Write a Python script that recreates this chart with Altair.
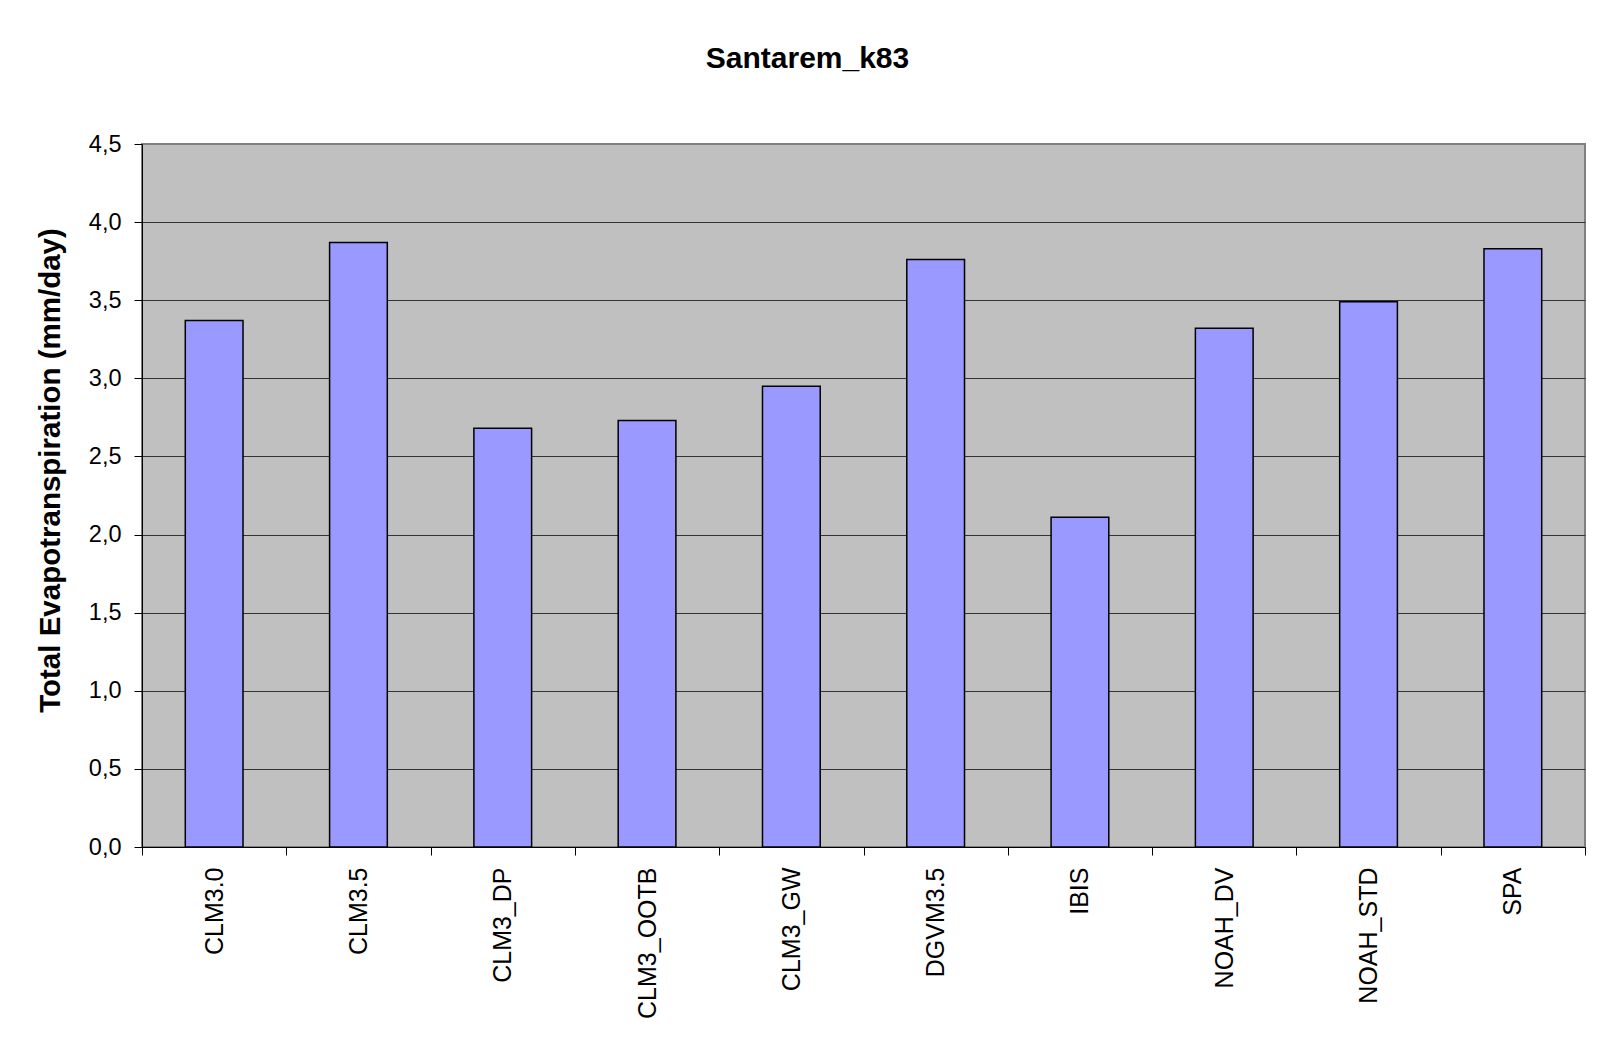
import altair as alt
import pandas as pd

models = ["CLM3.0", "CLM3.5", "CLM3_DP", "CLM3_OOTB", "CLM3_GW",
          "DGVM3.5", "IBIS", "NOAH_DV", "NOAH_STD", "SPA"]
et_values = [3.37, 3.87, 2.68, 2.73, 2.95, 3.76, 2.11, 3.32, 3.49, 3.83]
y_ticks = [0.0, 0.5, 1.0, 1.5, 2.0, 2.5, 3.0, 3.5, 4.0, 4.5]

df = pd.DataFrame({"model": models, "et": et_values})

FONT = "Liberation Sans"

chart = alt.Chart(df).mark_bar(
    color="#9999FF", stroke="#000000", strokeWidth=1.5,
    width=alt.RelativeBandSize(0.4)
).encode(
    x=alt.X("model:N", sort=models,
            scale=alt.Scale(paddingInner=0, paddingOuter=0),
            axis=alt.Axis(title=None, labelAngle=270, labelFont=FONT,
                          labelFontSize=25, labelColor="#000000",
                          labelPadding=12, tickBand="extent", tickSize=8,
                          tickColor="#000000", domainColor="#000000",
                          labelLimit=300)),
    y=alt.Y("et:Q", scale=alt.Scale(domain=[0, 4.5], nice=False),
            axis=alt.Axis(title="Total Evapotranspiration (mm/day)",
                          values=y_ticks,
                          labelExpr="replace(format(datum.value, '.1f'), '.', ',')",
                          labelFont=FONT, labelFontSize=23.5, labelColor="#000000",
                          labelPadding=13, tickSize=8, tickColor="#000000",
                          domainColor="#000000",
                          grid=True,
                          gridColor={"condition": {"test": "datum.value >= 4.5", "value": "#808080"},
                                     "value": "#333333"},
                          gridWidth=1.2,
                          titleFont=FONT, titleFontSize=29.5, titleFontWeight="bold",
                          titleColor="#000000", titleAngle=270,
                          titleBaseline="bottom", titleX=-77, titleY=326))
).properties(
    width=1443, height=703,
    title=alt.TitleParams("Santarem_k83", font=FONT, fontSize=30, fontWeight="bold",
                          color="#000000", frame="group", anchor="middle",
                          baseline="alphabetic", offset=34, dx=-56),
    autosize=alt.AutoSizeParams(type="none"),
    padding={"left": 134, "top": 136, "right": 11, "bottom": 185},
    background="#FFFFFF"
).configure_view(
    fill="#C0C0C0", stroke="#808080", strokeWidth=2
)

chart.save("out.html", embed_options={"renderer": "svg", "actions": False})
